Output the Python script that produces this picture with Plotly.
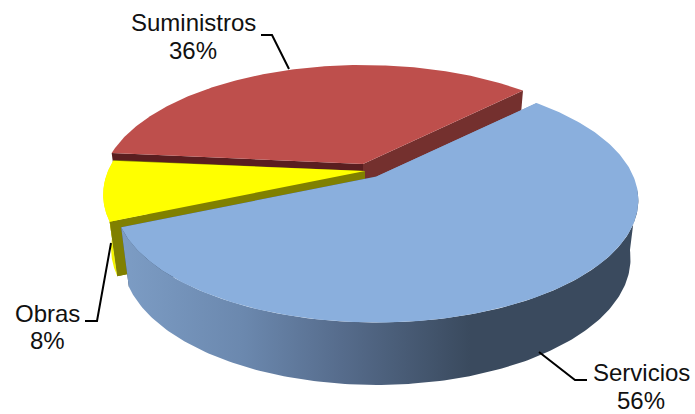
import numpy as np
import plotly.graph_objects as go

# Data
categories = ["Suministros", "Obras", "Servicios"]
values = [36, 8, 56]
pct_labels = ["36%", "8%", "56%"]

# Style / pie camera constants
START_DEG = 45.0
RX, RY, PERSP = 257.0, 118.0, 0.192
SCALE_X, SCALE_Y = 0.97, 1.03
depths = {"Suministros": 58.0, "Obras": 53.0, "Servicios": 58.0}
centres = {"Suministros": (363, 164), "Obras": (365, 171), "Servicios": (376.5, 176.5)}
top_col = {"Suministros": "#BE4F4C", "Obras": "#FFFF00", "Servicios": "#8AAFDD"}
start_wall_col = {"Suministros": "#74302E", "Obras": "#808000", "Servicios": "#3A4A60"}
end_wall_col = {"Suministros": "#5A1E20", "Obras": "#808000", "Servicios": "#7F9FC8"}
blue_gradient = [[0.0, "#7C9CC4"], [0.23, "#6B88AE"], [0.42, "#566C8C"], [0.67, "#3A4A5E"], [1.0, "#3A4A5E"]]


def project(cx, cy, deg):
    t = np.radians(deg)
    u, v = np.cos(t), np.sin(t)
    w = 1 + PERSP * v
    return cx + RX * u / w, cy - RY * v / w


def lower(cx, cy, x, y, depth):
    return cx + SCALE_X * (x - cx), cy + SCALE_Y * (y - cy) + depth


def poly(xs, ys, color, **kw):
    args = dict(x=list(xs), y=list(ys), mode="lines", fill="toself", line=dict(width=0, color=color),
                hoverinfo="skip", showlegend=False)
    if color is not None:
        args["fillcolor"] = color
    args.update(kw)
    return go.Scatter(**args)


fig = go.Figure()
total = sum(values)
angle = START_DEG
for name, val in zip(categories, values):
    a0, a1 = angle, angle + 360 * val / total
    angle = a1
    cx, cy = centres[name]
    depth = depths[name]
    degs = np.linspace(a0, a1, 240)
    tx, ty = project(cx, cy, degs)
    bx, by = lower(cx, cy, tx, ty, depth)
    apex_bx, apex_by = lower(cx, cy, cx, cy, depth)

    # flat edge walls
    fig.add_trace(poly([cx, tx[0], bx[0], apex_bx], [cy, ty[0], by[0], apex_by], start_wall_col[name]))
    fig.add_trace(poly([cx, tx[-1], bx[-1], apex_bx], [cy, ty[-1], by[-1], apex_by], end_wall_col[name]))

    # outer rim wall (front-facing part only)
    if name == "Servicios":
        front = np.sin(np.radians(degs)) < -0.1
        fig.add_trace(poly(np.r_[tx[front], bx[front][::-1]], np.r_[ty[front], by[front][::-1]], None,
                           fillgradient=dict(type="horizontal", colorscale=blue_gradient, start=125, stop=640)))
    elif name == "Obras":
        fig.add_trace(poly(np.r_[tx, bx[::-1]], np.r_[ty, by[::-1]], "#F4F400"))
        fig.add_trace(poly([cx, tx[-1], bx[-1], apex_bx], [cy, ty[-1], by[-1], apex_by], end_wall_col[name]))

    # top face
    fig.add_trace(poly(np.r_[cx, tx, cx], np.r_[cy, ty, cy], top_col[name]))

# Labels
label_pos = {
    "Suministros": ((193, 22), (193, 50)),
    "Obras": ((47, 313), (47, 340)),
    "Servicios": ((641, 372), (641, 400)),
}
annotations = []
for name, pct in zip(categories, pct_labels):
    (x1, y1), (x2, y2) = label_pos[name]
    for text, x, y in ((name, x1, y1), (pct, x2, y2)):
        annotations.append(dict(text=text, x=x, y=y, xref="x", yref="y", showarrow=False,
                                xanchor="center", yanchor="middle",
                                font=dict(family="Liberation Sans, Arial, sans-serif", size=24, color="#111111")))

leaders = [
    "M 261 35 L 272 35 L 289 69",
    "M 85 321 L 97 321 L 111 243",
    "M 587 380 L 575 380 L 539 352",
]
shapes = [dict(type="path", path=p, line=dict(color="black", width=2), layer="above") for p in leaders]

fig.update_layout(
    width=695, height=414,
    margin=dict(l=0, r=0, t=0, b=0),
    paper_bgcolor="white", plot_bgcolor="white",
    xaxis=dict(range=[0, 695], visible=False, fixedrange=True),
    yaxis=dict(range=[414, 0], visible=False, fixedrange=True),
    showlegend=False,
    annotations=annotations,
    shapes=shapes,
)
fig.write_html("out.html", config={"displayModeBar": False},
               post_script="document.body.style.margin='0';document.body.style.overflow='hidden';")
